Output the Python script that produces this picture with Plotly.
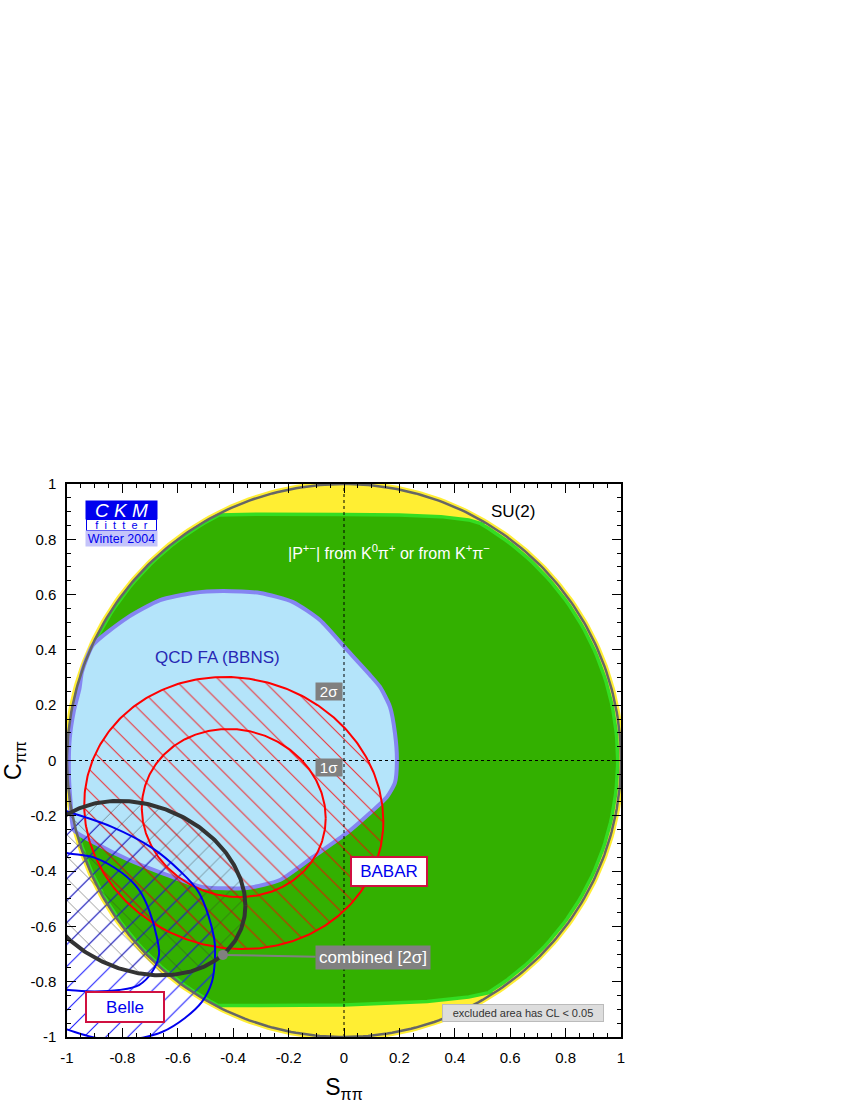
import numpy as np
import plotly.graph_objects as go

# ---------------- data ----------------
tick_vals = [-1.0, -0.8, -0.6, -0.4, -0.2, 0.0, 0.2, 0.4, 0.6, 0.8, 1.0]
tick_text = ["-1", "-0.8", "-0.6", "-0.4", "-0.2", "0", "0.2", "0.4", "0.6", "0.8", "1"]

# SU(2) bound  S^2 + C^2 <= 1
su2_radius = 1.0
yellow_radius = 1.012

# |P+-| constraint region (green): flat top / bottom edges, circle elsewhere
green_top_S = [-0.455, -0.30, 0.00, 0.20, 0.35, 0.45, 0.50]
green_top_C = [0.888, 0.891, 0.890, 0.888, 0.882, 0.870, 0.855]
green_bot_S = [0.53, 0.45, 0.30, 0.00, -0.30, -0.455]
green_bot_C = [-0.838, -0.855, -0.872, -0.884, -0.886, -0.886]
green_right_radius = 0.988
green_left_radius = 0.996

# QCD FA (BBNS) region boundary
qcdfa_S = [-0.946, -0.906, -0.783, -0.664, -0.545, -0.437, -0.303, -0.184, -0.087, 0.011,
           0.094, 0.130, 0.166, 0.184, 0.191, 0.184, 0.155, 0.094, 0.011, -0.112,
           -0.231, -0.350, -0.513, -0.657, -0.776, -0.899, -0.975,
           -0.987, -0.993, -0.990, -0.975, -0.955]
qcdfa_C = [0.320, 0.418, 0.516, 0.580, 0.606, 0.613, 0.606, 0.573, 0.508, 0.400,
           0.309, 0.266, 0.194, 0.099, 0.002, -0.080, -0.132, -0.190, -0.262, -0.349,
           -0.432, -0.461, -0.457, -0.407, -0.360, -0.298, -0.252,
           -0.150, -0.050, 0.080, 0.180, 0.260]

# BABAR measurement: centre, (sigma_S, sigma_C, correlation) for 1 and 2 sigma contours
babar_center = (-0.398, -0.190)
babar_1sig = (0.332, 0.304, -0.06)
babar_2sig = (0.540, 0.492, -0.06)

# Combined (2 sigma) contour
combined_center = (-0.736, -0.4615)
combined_2sig = (0.380, 0.3155, -0.20)
combined_point = (-0.437, -0.703)

# Belle contours (read along their visible arcs)
belle_2sig_S = [-1.04, -0.993, -0.838, -0.693, -0.596, -0.523, -0.469, -0.466, -0.477,
                -0.513, -0.574, -0.657, -0.729, -0.810, -0.910, -0.993, -1.04]
belle_2sig_C = [-0.170, -0.186, -0.240, -0.316, -0.396, -0.479, -0.642, -0.714, -0.801,
                -0.873, -0.931, -0.982, -1.003, -1.015, -1.000, -0.975, -0.960]
belle_1sig_S = [-1.04, -0.993, -0.899, -0.801, -0.740, -0.704, -0.675, -0.668, -0.693,
                -0.740, -0.812, -0.900, -0.993, -1.04]
belle_1sig_C = [-0.325, -0.336, -0.352, -0.407, -0.468, -0.540, -0.642, -0.703, -0.765,
                -0.812, -0.830, -0.835, -0.830, -0.827]

zero_line = [-1.0, 1.0]

FONT = "Liberation Sans, Arial, Helvetica, sans-serif"


# ---------------- helpers ----------------
def arc(r, a0, a1, n=120):
    t = np.radians(np.linspace(a0, a1, n))
    return r * np.cos(t), r * np.sin(t)


def ellipse(center, pars, n=361):
    cx, cy = center
    a, b, r = pars
    L = np.linalg.cholesky(np.array([[a * a, r * a * b], [r * a * b, b * b]]))
    t = np.linspace(0, 2 * np.pi, n)
    xy = L @ np.vstack([np.cos(t), np.sin(t)])
    return cx + xy[0], cy + xy[1]


def ang(s, c):
    return np.degrees(np.arctan2(c, s)) % 360


fig = go.Figure()

# yellow SU(2) allowed disk
ys, yc = arc(yellow_radius, 0, 360, 361)
fig.add_trace(go.Scatter(x=ys, y=yc, fill="toself", fillcolor="#FFEE33",
                         line=dict(width=0), mode="lines", hoverinfo="skip"))

# green |P+-| region
a_top = ang(green_top_S[-1], green_top_C[-1])
a_bot = ang(green_bot_S[0], green_bot_C[0]) - 360
rs, rc = arc(green_right_radius, a_top, a_bot, 80)
a_bl = ang(green_bot_S[-1], green_bot_C[-1])
a_tl = ang(green_top_S[0], green_top_C[0])
ls, lc = arc(green_left_radius, a_bl, a_tl, 80)
gS = np.concatenate([green_top_S, rs, green_bot_S, ls])
gC = np.concatenate([green_top_C, rc, green_bot_C, lc])
fig.add_trace(go.Scatter(x=gS, y=gC, fill="toself", fillcolor="#33B000",
                         line=dict(color="#33DD22", width=3.5), mode="lines", hoverinfo="skip"))

# QCD FA region
fig.add_trace(go.Scatter(x=qcdfa_S + [qcdfa_S[0]], y=qcdfa_C + [qcdfa_C[0]], fill="toself",
                         fillcolor="#B4E4FA", line=dict(color="#8585F2", width=4, shape="spline",
                                                       smoothing=0.6),
                         mode="lines", hoverinfo="skip"))

# hatched regions
HATCH = 15.5
SOL = 0.068
bx2, by2 = ellipse(babar_center, babar_2sig)
cbx, cby = ellipse(combined_center, combined_2sig)
fig.add_trace(go.Scatter(x=belle_2sig_S, y=belle_2sig_C, fill="toself", fillcolor="rgba(0,0,0,0)",
                         fillpattern=dict(shape="/", fgcolor="#1818FF", bgcolor="rgba(0,0,0,0)",
                                          size=HATCH, solidity=SOL, fgopacity=1.0),
                         line=dict(width=0, shape="spline"), mode="lines", hoverinfo="skip"))
fig.add_trace(go.Scatter(x=cbx, y=cby, fill="toself", fillcolor="rgba(0,0,0,0)",
                         fillpattern=dict(shape="x", fgcolor="#333333", bgcolor="rgba(0,0,0,0)",
                                          size=HATCH, solidity=SOL, fgopacity=0.9),
                         line=dict(width=0), mode="lines", hoverinfo="skip"))
fig.add_trace(go.Scatter(x=bx2, y=by2, fill="toself", fillcolor="rgba(0,0,0,0)",
                         fillpattern=dict(shape="\\", fgcolor="#FF0000", bgcolor="rgba(0,0,0,0)",
                                          size=HATCH, solidity=SOL, fgopacity=0.8),
                         line=dict(width=0), mode="lines", hoverinfo="skip"))

# dotted zero lines
fig.add_trace(go.Scatter(x=[0, 0], y=zero_line, mode="lines",
                         line=dict(color="black", width=1, dash="dot"), hoverinfo="skip"))
fig.add_trace(go.Scatter(x=zero_line, y=[0, 0], mode="lines",
                         line=dict(color="black", width=1, dash="dot"), hoverinfo="skip"))

# SU(2) circle
cs, cc = arc(su2_radius, 0, 360, 361)
fig.add_trace(go.Scatter(x=cs, y=cc, mode="lines", line=dict(color="#666666", width=2.5),
                         hoverinfo="skip"))

# contour lines
bx1, by1 = ellipse(babar_center, babar_1sig)
fig.add_trace(go.Scatter(x=bx1, y=by1, mode="lines", line=dict(color="#FF0000", width=2),
                         hoverinfo="skip"))
fig.add_trace(go.Scatter(x=bx2, y=by2, mode="lines", line=dict(color="#FF0000", width=2),
                         hoverinfo="skip"))
fig.add_trace(go.Scatter(x=belle_1sig_S, y=belle_1sig_C, mode="lines",
                         line=dict(color="#0000EE", width=2, shape="spline"), hoverinfo="skip"))
fig.add_trace(go.Scatter(x=belle_2sig_S, y=belle_2sig_C, mode="lines",
                         line=dict(color="#0000EE", width=2, shape="spline"), hoverinfo="skip"))
fig.add_trace(go.Scatter(x=cbx, y=cby, mode="lines", line=dict(color="#333333", width=4),
                         hoverinfo="skip"))

# combined point
fig.add_trace(go.Scatter(x=[combined_point[0]], y=[combined_point[1]], mode="markers",
                         marker=dict(color="#808080", size=10), hoverinfo="skip"))

ann = []


def label(x, y, text, color="white", size=17, bg=None, border=None, bw=0, w=None, h=None):
    d = dict(x=x, y=y, xref="x", yref="y", text=text, showarrow=False,
             font=dict(family=FONT, size=size, color=color), borderpad=1)
    if bg:
        d["bgcolor"] = bg
    if border:
        d["bordercolor"] = border
        d["borderwidth"] = bw
    if w:
        d["width"] = w
    if h:
        d["height"] = h
    ann.append(d)


label(0.163, 0.755, "|P<sup>+\u2212</sup>| from K<sup>0</sup>\u03c0<sup>+</sup> or from K<sup>+</sup>\u03c0<sup>\u2212</sup>",
      color="white", size=16)
label(0.61, 0.90, "SU(2)", color="black", size=17)
label(-0.458, 0.371, "QCD FA (BBNS)", color="#2828B4", size=17)
label(-0.054, 0.251, "2\u03c3", color="white", size=15, bg="#808080", w=24, h=15)
label(-0.054, -0.025, "1\u03c3", color="white", size=15, bg="#808080", w=24, h=15)
label(0.164, -0.403, "BABAR", color="#0000EE", size=17, bg="white", border="#D01040", bw=2,
      w=72, h=25)
label(-0.792, -0.89, "Belle", color="#0000EE", size=17, bg="white", border="#D01040", bw=2,
      w=74, h=26)
label(0.646, -0.913, "excluded area has CL < 0.05", color="#333333", size=11, bg="#DDDDDD",
      border="#BBBBBB", bw=1, w=158, h=14)

# combined label with leader line
ann.append(dict(x=combined_point[0], y=combined_point[1], xref="x", yref="y",
                ax=0.105, ay=-0.714, axref="x", ayref="y",
                text="combined [2\u03c3]", showarrow=True, arrowhead=0, arrowwidth=2,
                arrowcolor="#808080", standoff=0,
                font=dict(family=FONT, size=17, color="white"), bgcolor="#808080",
                width=112, height=21, borderpad=1))

# CKMfitter logo
label(-0.804, 0.905, "<i>C K M</i>", color="white", size=19, bg="#0000EE", w=69, h=16)
label(-0.804, 0.853, "f  i  t  t  e  r", color="#0000EE", size=11, bg="white",
      border="#0000EE", bw=1, w=67, h=8)
label(-0.804, 0.802, "Winter 2004", color="#0000EE", size=12.5, bg="#C4C4FA", w=69, h=13)

fig.update_layout(
    width=854, height=1105,
    margin=dict(l=67, r=233, t=484, b=68, autoexpand=False),
    paper_bgcolor="white", plot_bgcolor="white",
    showlegend=False,
    annotations=ann,
    font=dict(family=FONT, color="black"),
)

axis_common = dict(
    range=[-1, 1], tickvals=tick_vals, ticktext=tick_text, ticks="inside", ticklen=9,
    tickwidth=1, tickcolor="black", showgrid=False, zeroline=False, showline=True,
    linecolor="black", linewidth=1.5, mirror="allticks", automargin=False,
    ticklabelstandoff=6,
    tickfont=dict(family=FONT, size=15, color="black"),
    minor=dict(dtick=0.05, ticks="inside", ticklen=4, tickcolor="black", tickwidth=1,
               showgrid=False),
)
fig.update_xaxes(**axis_common, title=dict(text="S<sub>\u03c0\u03c0</sub>",
                                           font=dict(family=FONT, size=23), standoff=14))
fig.update_yaxes(**axis_common, title=dict(text="C<sub>\u03c0\u03c0</sub>",
                                           font=dict(family=FONT, size=23), standoff=4))

fig.write_html("out.html", config={"displayModeBar": False},
               post_script="document.body.style.margin='0px';")
